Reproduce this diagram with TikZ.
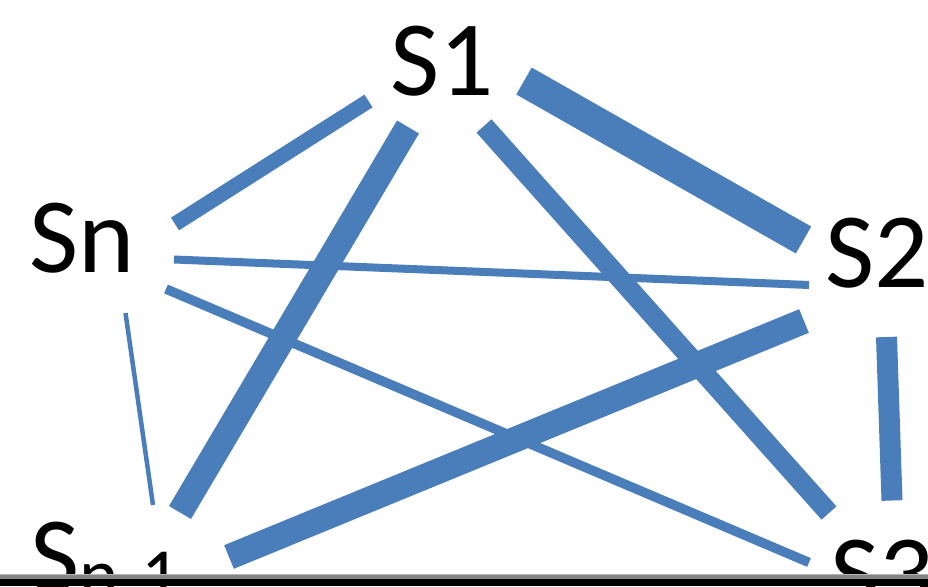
\documentclass[tikz,border=0pt]{standalone}
\usepackage{fontspec}
\setmainfont{Carlito}
\definecolor{edgeblue}{HTML}{4A7EBB}
\definecolor{bandgray}{HTML}{858585}
\definecolor{bandlight}{HTML}{B4B4B4}
\tikzset{
  lbl/.style={anchor=base west,inner sep=0pt,font=\fontsize{107}{107}\selectfont,text=black},
  edge/.style={draw=edgeblue,line cap=butt}
}
\begin{document}
\begin{tikzpicture}[x=1pt,y=-1pt]
\useasboundingbox (0,0) rectangle (928,586);
\fill[white] (0,0) rectangle (928,586);
% labels
\node[lbl] (s1) at (390,95) {S1};
\node[lbl] (sn) at (29,272) {Sn};
\node[lbl] (s2) at (825,287) {S2};
\node[lbl] (snm1) at (30,591) {S\raisebox{-9pt}{\fontsize{75}{75}\selectfont n-1}};
\node[lbl] (s3) at (830,609) {S3};
% connector end points
\coordinate (a1) at (368.5,101); \coordinate (b1) at (175,224);
\coordinate (a2) at (524,81);    \coordinate (b2) at (803.5,240);
\coordinate (a3) at (408,127);   \coordinate (b3) at (180,512.5);
\coordinate (a4) at (484,126);   \coordinate (b4) at (829,513);
\coordinate (a5) at (174,259.5); \coordinate (b5) at (809,285);
\coordinate (a6) at (166,289);   \coordinate (b6) at (809,562.5);
\coordinate (a7) at (125.5,313); \coordinate (b7) at (153,505);
\coordinate (a8) at (804,321);   \coordinate (b8) at (229,557);
\coordinate (a9) at (886.5,337); \coordinate (b9) at (892,500.5);
% connectors
\draw[edge,line width=15] (a1) -- (b1);
\draw[edge,line width=31] (a2) -- (b2);
\draw[edge,line width=25.5] (a3) -- (b3);
\draw[edge,line width=20] (a4) -- (b4);
\draw[edge,line width=8] (a5) -- (b5);
\draw[edge,line width=9.5] (a6) -- (b6);
\draw[edge,line width=4.5] (a7) -- (b7);
\draw[edge,line width=25.5] (a8) -- (b8);
\draw[edge,line width=21] (a9) -- (b9);
% bottom bands
\fill[bandlight] (0,574) rectangle (928,575.3);
\fill[bandgray] (0,575.3) rectangle (928,579.3);
\fill[black] (0,579.3) rectangle (928,586);
\end{tikzpicture}
\end{document}
